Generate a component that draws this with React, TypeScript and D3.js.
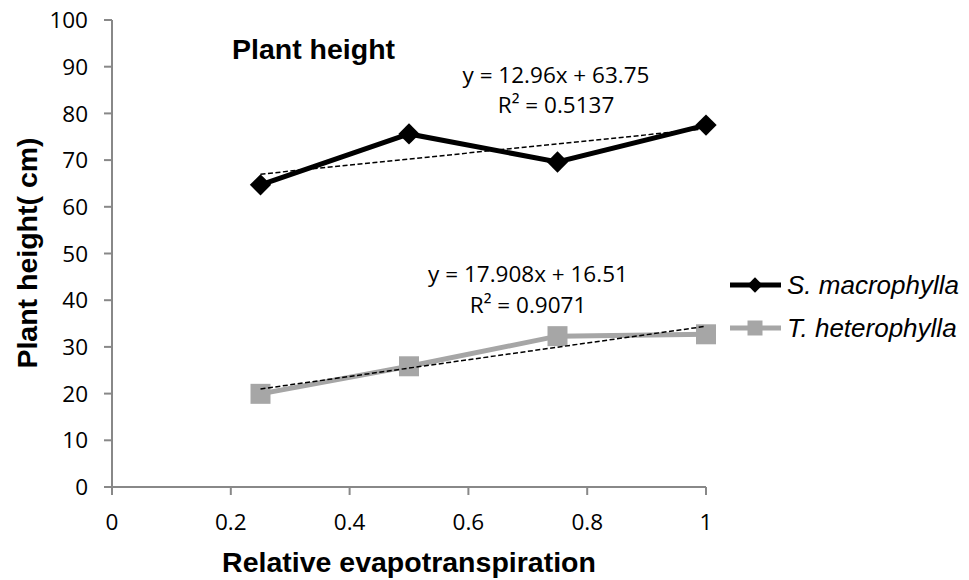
import React from "react";
import * as d3 from "d3";

// Relative evapotranspiration levels
const xValues = [0.25, 0.5, 0.75, 1];
// Plant height (cm) per species
const sMacrophylla = [64.7, 75.6, 69.6, 77.5];
const tHeterophylla = [19.95, 25.85, 32.3, 32.7];
// Linear trend coefficients [slope, intercept]
const sTrend = [12.96, 63.75];
const tTrend = [17.908, 16.51];
const sLabels = ["y = 12.96x + 63.75", "R² = 0.5137"];
const tLabels = ["y = 17.908x + 16.51", "R² = 0.9071"];
const xTicks = [0, 0.2, 0.4, 0.6, 0.8, 1];
const yTicks = [0, 10, 20, 30, 40, 50, 60, 70, 80, 90, 100];
const seriesNames = ["S. macrophylla", "T. heterophylla"];

const W = 969;
const H = 580;
const x = d3.scaleLinear().domain([0, 1]).range([112, 706]);
const y = d3.scaleLinear().domain([0, 100]).range([487, 20]);
const axisColor = "#888888";
const black = "#000000";
const gray = "#a6a6a6";
const tickFont = "'Open Sans', 'Noto Sans', sans-serif";
const boldFont = "'Liberation Sans', Arial, sans-serif";
const tickSize = 22.5;

export default function App() {
  const line = d3
    .line<[number, number]>()
    .x((d) => x(d[0]))
    .y((d) => y(d[1]));
  const sPts = xValues.map((v, i) => [v, sMacrophylla[i]] as [number, number]);
  const tPts = xValues.map((v, i) => [v, tHeterophylla[i]] as [number, number]);
  const trend = (c: number[]) =>
    [xValues[0], xValues[xValues.length - 1]].map(
      (v) => [v, c[0] * v + c[1]] as [number, number]
    );
  const diamond = d3.symbol().type(d3.symbolDiamond2).size(290)();
  const square = d3.symbol().type(d3.symbolSquare).size(400)();
  const legendDiamond = d3.symbol().type(d3.symbolDiamond2).size(150)();
  const legendSquare = d3.symbol().type(d3.symbolSquare).size(225)();

  return (
    <svg width={W} height={H} style={{ position: "absolute", left: 0, top: 0, background: "#fff" }}>
      {/* axes */}
      <line x1={x(0)} x2={x(0)} y1={y(0)} y2={y(100)} stroke={axisColor} strokeWidth={2} />
      <line x1={x(0)} x2={x(1)} y1={y(0)} y2={y(0)} stroke={axisColor} strokeWidth={2} />
      {yTicks.map((t) => (
        <g key={"y" + t}>
          <line x1={x(0) - 8} x2={x(0)} y1={y(t)} y2={y(t)} stroke={axisColor} strokeWidth={2} />
          <text x={88} y={y(t)} dy="0.36em" textAnchor="end" fontFamily={tickFont} fontSize={tickSize} fill="#000">
            {t}
          </text>
        </g>
      ))}
      {xTicks.map((t) => (
        <g key={"x" + t}>
          <line x1={x(t)} x2={x(t)} y1={y(0)} y2={y(0) + 8} stroke={axisColor} strokeWidth={2} />
          <text x={x(t)} y={530} textAnchor="middle" fontFamily={tickFont} fontSize={tickSize} fill="#000">
            {t}
          </text>
        </g>
      ))}

      {/* axis titles */}
      <text x={409} y={572} textAnchor="middle" fontFamily={boldFont} fontWeight="bold" fontSize={28.5} fill="#000">
        Relative evapotranspiration
      </text>
      <text
        transform={`translate(37,253) rotate(-90)`}
        textAnchor="middle"
        fontFamily={boldFont}
        fontWeight="bold"
        fontSize={28.5}
        fill="#000"
      >
        Plant height( cm)
      </text>
      <text x={232} y={59} fontFamily={boldFont} fontWeight="bold" fontSize={28.5} fill="#000">
        Plant height
      </text>

      {/* T. heterophylla series */}
      <path d={line(tPts) || ""} fill="none" stroke={gray} strokeWidth={5} />
      {tPts.map((p, i) => (
        <path key={"ts" + i} d={square || ""} transform={`translate(${x(p[0])},${y(p[1])})`} fill={gray} />
      ))}
      <path d={line(trend(tTrend)) || ""} fill="none" stroke="#000" strokeWidth={1.5} strokeDasharray="5,2.5" />

      {/* S. macrophylla series */}
      <path d={line(sPts) || ""} fill="none" stroke={black} strokeWidth={5} />
      {sPts.map((p, i) => (
        <path key={"sd" + i} d={diamond || ""} transform={`translate(${x(p[0])},${y(p[1])})`} fill={black} />
      ))}
      <path d={line(trend(sTrend)) || ""} fill="none" stroke="#000" strokeWidth={1.5} strokeDasharray="5,2.5" />

      {/* trend equations */}
      {sLabels.map((s, i) => (
        <text key={"sl" + i} x={556} y={83 + i * 29.5} textAnchor="middle" fontFamily={tickFont} fontSize={tickSize} fill="#000">
          {s}
        </text>
      ))}
      {tLabels.map((s, i) => (
        <text key={"tl" + i} x={528} y={282 + i * 31} textAnchor="middle" fontFamily={tickFont} fontSize={tickSize} fill="#000">
          {s}
        </text>
      ))}

      {/* legend */}
      {seriesNames.map((name, i) => {
        const ly = 285 + i * 43;
        const c = i === 0 ? black : gray;
        return (
          <g key={name}>
            <line x1={730} x2={781} y1={ly} y2={ly} stroke={c} strokeWidth={5} />
            <path
              d={(i === 0 ? legendDiamond : legendSquare) || ""}
              transform={`translate(755,${ly})`}
              fill={c}
            />
            <text x={787} y={ly} dy="0.36em" fontFamily={boldFont} fontStyle="italic" fontSize={26} fill="#000">
              {name}
            </text>
          </g>
        );
      })}
    </svg>
  );
}
